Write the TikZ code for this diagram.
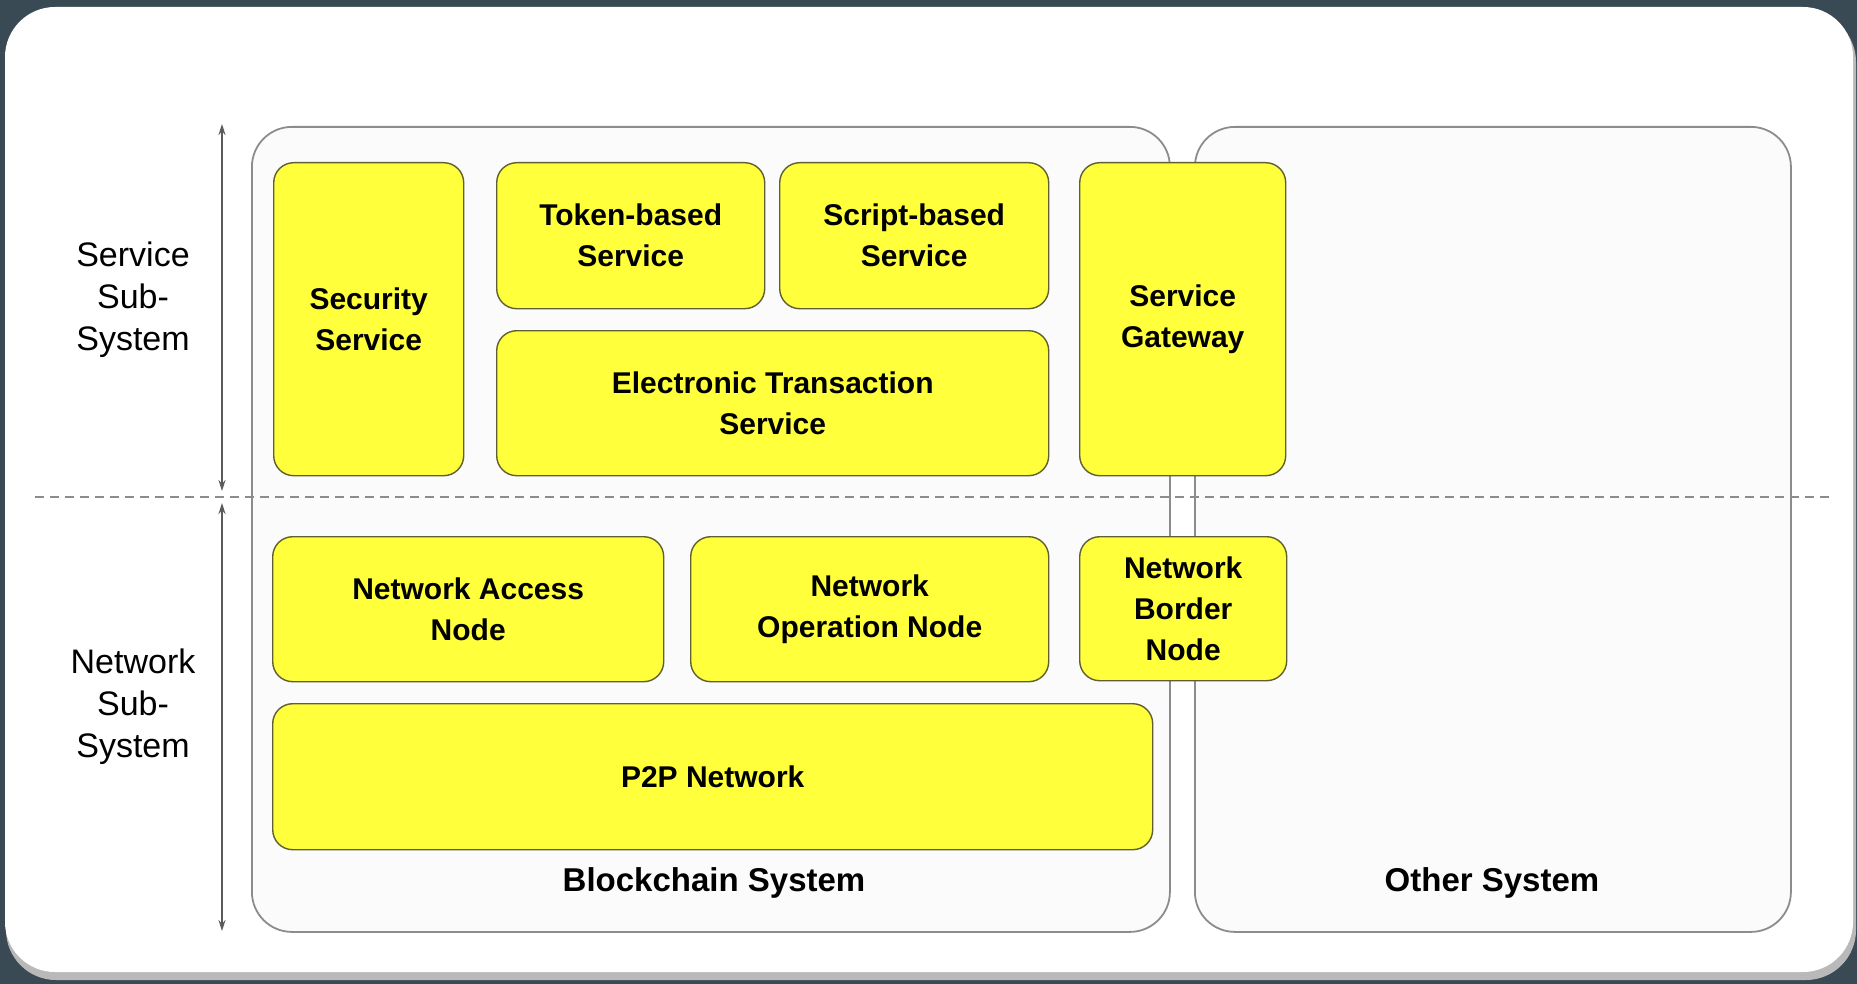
\documentclass[tikz,border=0pt]{standalone}
\usepackage{fontspec}
\setmainfont{Liberation Sans}
\usetikzlibrary{arrows.meta}
\definecolor{bgdark}{RGB}{58,74,85}
\definecolor{yfill}{RGB}{255,255,60}
\definecolor{yedge}{RGB}{95,95,50}
\definecolor{cedge}{RGB}{140,140,140}
\definecolor{cfill}{RGB}{251,251,251}
\definecolor{arrgray}{RGB}{90,90,90}
\tikzset{
  ybox/.style={draw=yedge, fill=yfill, rounded corners=20pt, line width=1.4pt,
    align=center, inner sep=0pt, anchor=north west,
    font=\bfseries\fontsize{30}{41}\selectfont},
  sysbox/.style={draw=cedge, fill=cfill, rounded corners=40pt, line width=1.8pt,
    inner sep=0pt, anchor=north west},
  syslabel/.style={font=\bfseries\fontsize{33}{40}\selectfont},
  sidelabel/.style={align=center, font=\fontsize{34}{42}\selectfont},
  dimarrow/.style={draw=arrgray, line width=1.6pt, {Stealth[length=11pt,width=7pt]}-{Stealth[length=11pt,width=7pt]}},
  sepline/.style={draw=cedge, line width=1.4pt, dash pattern=on 9pt off 6pt}
}
\begin{document}
\begin{tikzpicture}[x=1pt,y=-1pt]
\useasboundingbox (0,0) rectangle (1857,984);
\fill[bgdark] (0,0) rectangle (1857,984);
\fill[gray!55, rounded corners=50pt] (6,12) rectangle (1856,980);
\fill[white, rounded corners=50pt] (5,7) rectangle (1853,972);

% containers
\node[sysbox, minimum width=918pt, minimum height=805pt] (bc) at (251,126) {};
\node[sysbox, minimum width=596pt, minimum height=805pt] (os) at (1194,126) {};

% dashed separator
\coordinate (dl) at (35,497);
\coordinate (dr) at (1830,497);
\draw[sepline] (dl) -- (dr);

% side arrows
\coordinate (a1t) at (222,124);
\coordinate (a1b) at (222,491);
\coordinate (a2t) at (222,503);
\coordinate (a2b) at (222,931);
\draw[dimarrow] (a1t) -- (a1b);
\draw[dimarrow] (a2t) -- (a2b);

% side labels
\node[sidelabel] (ssl) at (133,300) {Service\\Sub-\\System};
\node[sidelabel] (nsl) at (133,707) {Network\\Sub-\\System};

% yellow boxes
\node[ybox, minimum width=190pt, minimum height=313pt] (sec) at (273,162) {Security\\Service};
\node[ybox, minimum width=268pt, minimum height=146pt] (tok) at (496,162) {Token-based\\Service};
\node[ybox, minimum width=269pt, minimum height=146pt] (scr) at (779,162) {Script-based\\Service};
\node[ybox, minimum width=552pt, minimum height=145pt] (ets) at (496,330) {Electronic Transaction\\Service};
\node[ybox, minimum width=206pt, minimum height=313pt] (gw) at (1079,162) {Service\\Gateway};
\node[ybox, minimum width=391pt, minimum height=145pt] (nan) at (272,536) {Network Access\\Node};
\node[ybox, minimum width=358pt, minimum height=145pt] (non) at (690,536) {Network\\Operation Node};
\node[ybox, minimum width=207pt, minimum height=144pt] (nbn) at (1079,536) {Network\\Border\\Node};
\node[ybox, minimum width=880pt, minimum height=146pt] (p2p) at (272,703) {P2P Network};

% container labels
\node[syslabel] (bcl) at (714,883) {Blockchain System};
\node[syslabel] (osl) at (1492,883) {Other System};
\end{tikzpicture}
\end{document}
